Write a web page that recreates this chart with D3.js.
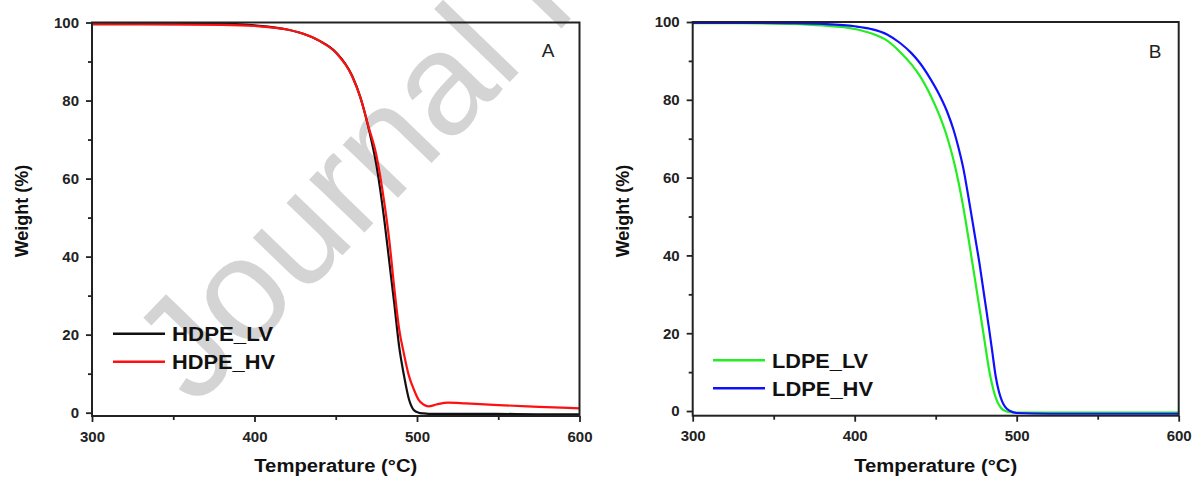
<!DOCTYPE html>
<html><head><meta charset="utf-8">
<script src="https://cdn.jsdelivr.net/npm/d3@7"></script>
<style>body{margin:0;background:#fff} svg{display:block}</style>
</head><body><svg id="c" width="1194" height="480"></svg>
<script>
// ---- data ----
const tempA  = [300, 350, 380, 400, 420, 430, 440, 450, 460, 465, 470, 475, 480, 483, 486, 489, 492, 495, 498, 501, 504, 507, 512, 519, 530, 547, 575, 600];
const hdpeLV = [99.6, 99.6, 99.75, 99.25, 98.2, 97.1, 95.3, 92.4, 86.4, 81, 73.3, 63.5, 49, 38.5, 28, 17, 9.5, 3.5, 0.7, 0, -0.2, -0.3, -0.3, -0.3, -0.3, -0.3, -0.4, -0.4];
const hdpeHV = [99.6, 99.5, 99.4, 99.1, 98.2, 97.1, 95.3, 92.3, 86.3, 81, 73.5, 66, 53.5, 44, 32, 21.5, 15, 9.5, 6, 3.3, 2.1, 1.6, 2.1, 2.6, 2.4, 2.0, 1.5, 1.1];
const tempB  = [300, 330, 360, 380, 400, 410, 420, 428, 435, 440, 447, 452, 457, 461, 464, 467, 470, 474, 477, 480, 483, 485, 487, 489, 491, 493, 496, 500, 520, 560, 600];
const ldpeLV = [99.7, 99.7, 99.5, 99.1, 98.2, 97.1, 95.2, 92.3, 89.1, 86.3, 81, 76.3, 70.5, 64.5, 59, 52.5, 45, 34.5, 26.5, 18.5, 10.5, 6.5, 3.5, 1.6, 0.5, 0, -0.3, -0.4, -0.4, -0.4, -0.4];
const ldpeHV = [99.8, 99.8, 99.7, 99.5, 98.9, 98.2, 96.8, 94.6, 92, 89.6, 85.2, 81.5, 77, 72.3, 67.8, 62.5, 55.5, 45.5, 38, 29.5, 21, 15, 9, 5, 2.5, 1, 0, -0.5, -0.7, -0.7, -0.7];
const xTicks = [300, 400, 500, 600];
const xMinor = [350, 450, 550];
const yTicks = [0, 20, 40, 60, 80, 100];
const yMinor = [10, 30, 50, 70, 90];
const panelLabels = ["A", "B"];
const namesA = ["HDPE_LV", "HDPE_HV"];
const namesB = ["LDPE_LV", "LDPE_HV"];
const xTitle = "Temperature (°C)";
const yTitle = "Weight (%)";
const watermark = "Journal Pre-proof";

// ---- drawing ----
const svg = d3.select("#c");
const FONT = "'Liberation Sans', Arial, sans-serif";

// watermark (behind)
svg.append("text")
  .attr("transform", "translate(195,408) rotate(-46)")
  .attr("font-family", FONT).attr("font-size", 145)
  .attr("fill", "#d4d4d4")
  .text(watermark);

const panels = [
  {left: 92, right: 579.5, top: 22.5, bottom: 416, yMin: -0.85, label: panelLabels[0], labelX: 548, labelY: 57,
   T: tempA, series: [hdpeLV, hdpeHV], names: namesA, colors: ["#111111", "#ff1010"],
   legX: 113, legY: [333.7, 361.7], legLen: [101, 103]},
  {left: 692.7, right: 1178.7, top: 22, bottom: 415.7, yMin: -1.2, label: panelLabels[1], labelX: 1155, labelY: 58,
   T: tempB, series: [ldpeLV, ldpeHV], names: namesB, colors: ["#22ee22", "#1010ff"],
   legX: 713, legY: [360.3, 388.3], legLen: [96, 101]}
];

panels.forEach(p => {
  const x = d3.scaleLinear().domain([300, 600]).range([p.left, p.right]);
  const y = d3.scaleLinear().domain([p.yMin, 100]).range([p.bottom, p.top]);
  const g = svg.append("g");

  // axes
  g.append("g").attr("transform", `translate(0,${p.bottom})`)
    .call(d3.axisBottom(x).tickValues(xTicks).tickSize(6).tickPadding(9).tickFormat(d3.format("d")));
  g.append("g").attr("transform", `translate(0,${p.bottom})`)
    .call(d3.axisBottom(x).tickValues(xMinor).tickSize(4).tickFormat(""));
  g.append("g").attr("transform", `translate(${p.left},0)`)
    .call(d3.axisLeft(y).tickValues(yTicks).tickSize(6).tickPadding(7).tickFormat(d3.format("d")));
  g.append("g").attr("transform", `translate(${p.left},0)`)
    .call(d3.axisLeft(y).tickValues(yMinor).tickSize(4).tickFormat(""));
  g.selectAll(".domain").remove();
  g.selectAll(".tick line").attr("stroke", "#222").attr("stroke-width", 1.8);
  g.selectAll(".tick text").attr("font-family", FONT).attr("font-weight", "bold")
    .attr("font-size", 15).attr("fill", "#222");

  // lines
  const line = d3.line().x((d, i) => x(p.T[i])).y(d => y(d)).curve(d3.curveMonotoneX);
  const clipId = "clip" + p.label;
  svg.append("clipPath").attr("id", clipId).append("rect")
    .attr("x", p.left).attr("y", p.top - 3).attr("width", p.right - p.left).attr("height", p.bottom - p.top + 3);
  p.series.forEach((s, k) => {
    g.append("path").datum(s).attr("d", line).attr("fill", "none")
      .attr("stroke", p.colors[k]).attr("stroke-width", 2.2).attr("clip-path", `url(#${clipId})`);
  });

  // frame
  g.append("rect").attr("x", p.left).attr("y", p.top).attr("width", p.right - p.left).attr("height", p.bottom - p.top)
    .attr("fill", "none").attr("stroke", "#222").attr("stroke-width", 2);

  // legend
  p.names.forEach((n, k) => {
    g.append("line").attr("x1", p.legX).attr("x2", p.legX + 52).attr("y1", p.legY[k]).attr("y2", p.legY[k])
      .attr("stroke", p.colors[k]).attr("stroke-width", 2.5);
    g.append("text").attr("x", p.legX + 59).attr("y", p.legY[k] + 7.5)
      .attr("font-family", FONT).attr("font-weight", "bold").attr("font-size", 20).attr("fill", "#111")
      .attr("textLength", p.legLen[k]).attr("lengthAdjust", "spacingAndGlyphs")
      .text(n);
  });

  // panel label
  g.append("text").attr("x", p.labelX).attr("y", p.labelY).attr("text-anchor", "middle")
    .attr("font-family", FONT).attr("font-size", 19).attr("fill", "#222").text(p.label);

  // axis titles
  g.append("text").attr("x", (p.left + p.right) / 2).attr("y", 472).attr("text-anchor", "middle")
    .attr("font-family", FONT).attr("font-weight", "bold").attr("font-size", 18).attr("fill", "#111")
    .attr("textLength", 163).attr("lengthAdjust", "spacingAndGlyphs")
    .text(xTitle);
  g.append("text").attr("transform", `translate(${p.left - 64},211) rotate(-90)`).attr("text-anchor", "middle")
    .attr("font-family", FONT).attr("font-weight", "bold").attr("font-size", 18).attr("fill", "#111")
    .text(yTitle);
});
</script></body></html>
